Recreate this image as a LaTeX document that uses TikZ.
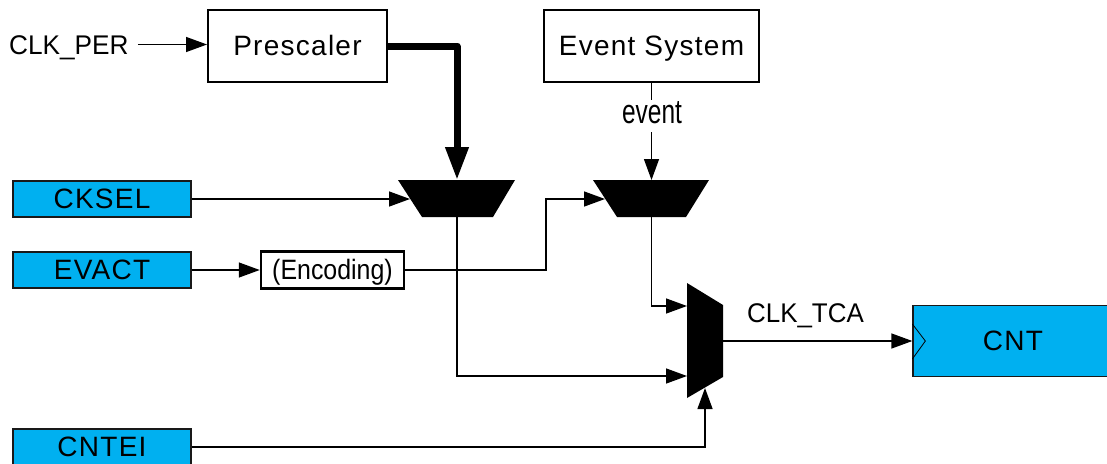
\documentclass[tikz,border=0pt]{standalone}
\usepackage{fontspec}
\setmainfont{Liberation Sans}
\newfontfamily\boxfont[LetterSpace=4.5]{Liberation Sans}
\usetikzlibrary{arrows.meta}
\definecolor{tcablue}{RGB}{0,176,240}
\newcommand{\boxtxt}{\fontsize{28}{32}\selectfont\boxfont}
\newcommand{\sigtxt}{\fontsize{27}{31}\selectfont}
\begin{document}
\begin{tikzpicture}[x=1pt,y=-1pt,
  font=\sigtxt,
  blk/.style={draw=black, line width=2pt, fill=white, inner sep=0pt,
    text height=20pt, text depth=2pt, font=\boxtxt},
  reg/.style={draw=black!90, line width=1.3pt, fill=tcablue, inner sep=0pt,
    text height=20pt, text depth=2pt, font=\boxtxt,
    minimum width=178pt, minimum height=36pt},
  lbl/.style={inner sep=0pt, font=\sigtxt},
  sig/.style={line width=1.4pt, -{Triangle[length=21pt,width=15pt]}},
  bus/.style={line width=7pt, line join=round, -{Triangle[length=33pt,width=22pt]}},
  muxfill/.style={fill=black}
]
\useasboundingbox (0,0) rectangle (1107,463);

% blocks
\node[lbl, inner xsep=9pt, text height=19pt, text depth=0pt, anchor=base west] (clkper) at (0,54) {\scalebox{0.97}[1]{CLK\_PER}};
\node[blk, minimum width=179pt, minimum height=72pt] (presc) at (297.5,46) {Prescaler};
\node[blk, minimum width=215pt, minimum height=72pt] (evsys) at (651.5,46) {Event System};
\node[reg] (cksel) at (102,199) {CKSEL};
\node[reg] (evact) at (102,270) {EVACT};
\node[reg] (cntei) at (102,447) {CNTEI};
\node[blk, line width=2.5pt, minimum width=143pt, minimum height=37pt,
  font=\fontsize{28}{32}\selectfont] (enc) at (332.5,270) {\scalebox{0.89}[1]{(Encoding)}};
\node[reg, minimum width=200pt, minimum height=71pt] (cnt) at (1013,341) {CNT};
\draw[line width=0.8pt] ([yshift=-18pt]cnt.west) -- ([xshift=13pt]cnt.west) -- ([yshift=17pt]cnt.west);

% multiplexers
\fill[muxfill] (398,180) -- (515,180) -- (493,217) -- (422,217) -- cycle;
\fill[muxfill] (593,180) -- (709,180) -- (686,217) -- (617,217) -- cycle;
\fill[muxfill] (687,283) -- (723,305) -- (723,377) -- (687,398) -- cycle;
\coordinate (m1in) at (457,180);
\coordinate (m1l) at (410,199);
\coordinate (m1out) at (457,217);
\coordinate (m2in) at (651.5,180);
\coordinate (m2l) at (605,199);
\coordinate (m2out) at (651.5,217);
\coordinate (m3a) at (687,306);
\coordinate (m3b) at (687,376);
\coordinate (m3s) at (705,388);
\coordinate (m3out) at (723,341);
\coordinate (jog) at (546,199);

% connectors
\draw[sig] (clkper.east) -- (clkper.east -| presc.west);
\draw[bus] (presc.east) -| (m1in);
\draw[sig] (evsys.south) -- (m2in);
\node[lbl, fill=white, inner xsep=2pt, inner ysep=1pt, text depth=8pt, anchor=base,
  font=\fontsize{34}{38}\selectfont] (evlbl) at (652,123) {\scalebox{0.72}[1]{event}};
\draw[sig] (cksel.east) -- (m1l);
\draw[sig] (evact.east) -- (enc.west);
\draw[sig] (enc.east) -| (jog) -- (m2l);
\draw[sig] (m1out) |- (m3b);
\draw[sig] (m2out) |- (m3a);
\draw[sig] (cntei.east) -| (m3s);
\draw[sig] (m3out) -- (cnt.west);
\node[lbl, anchor=base east] (clktca) at (864,322) {\scalebox{0.96}[1]{CLK\_TCA}};
\end{tikzpicture}
\end{document}
